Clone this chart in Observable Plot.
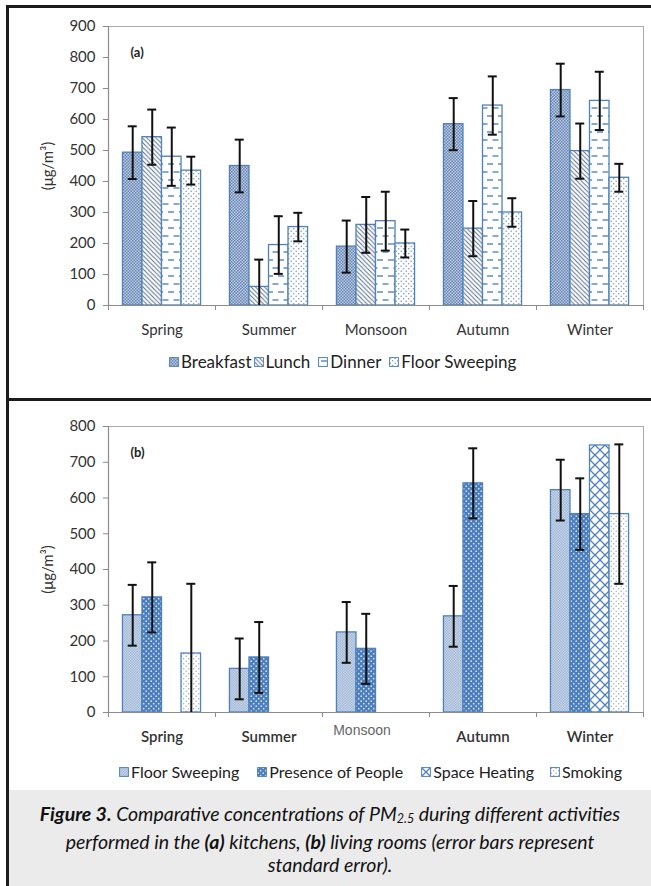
<!DOCTYPE html>
<html><head><meta charset="utf-8">
<script src="https://cdn.jsdelivr.net/npm/d3@7"></script>
<script src="https://cdn.jsdelivr.net/npm/@observablehq/plot@0.6"></script>
<style>
body{margin:0;background:#fff;}
#page{position:relative;width:651px;height:886px;overflow:hidden;font-family:Lato,"Open Sans",sans-serif;}
.ln{position:absolute;background:#1c1c1c;}
#chartA,#chartB{position:absolute;left:0;}
#chartA{top:0;} #chartB{top:400px;}
.legend{position:absolute;display:flex;align-items:center;color:#222;white-space:nowrap;line-height:20px;}
.legend span.it{display:flex;align-items:center;}
.legend svg{margin-right:2px;}
#cap{position:absolute;left:9px;top:790px;width:642px;height:96px;background:#ebebeb;}
#capText{position:absolute;left:0;width:642px;top:12px;text-align:center;font-style:italic;font-size:19.5px;line-height:23px;color:#111;}
#capText sub{font-size:12.5px;vertical-align:-2px;}
</style></head>
<body><div id="page">
<div id="chartA"></div>
<div id="chartB"></div>
<div class="legend" id="legA" style="left:169px;top:352px;font-size:17px;"></div>
<div class="legend" id="legB" style="left:119px;top:762px;font-size:16px;"></div>
<div id="cap"><div id="capText"><b>Figure 3.</b> Comparative concentrations of PM<sub>2.5</sub> during different activities<br>performed in the <b>(a)</b> kitchens, <b>(b)</b> living rooms (error bars represent<br>standard error).</div></div>
<div class="ln" style="left:6px;top:5px;width:645px;height:3px;"></div>
<div class="ln" style="left:6px;top:5px;width:3px;height:881px;"></div>
<div class="ln" style="left:6px;top:398px;width:645px;height:3px;"></div>
</div>
<script>
// ---- data ----
const seasons = ["Spring", "Summer", "Monsoon", "Autumn", "Winter"];
const kitchenSeries = ["Breakfast", "Lunch", "Dinner", "Floor Sweeping"];
const breakfast   = [493, 450, 190, 585, 695];
const breakfastSE = [85, 85, 84, 84, 85];
const lunch       = [543, 60, 260, 248, 498];
const lunchSE     = [89, 88, 90, 89, 89];
const dinner      = [480, 195, 272, 645, 660];
const dinnerSE    = [94, 93, 95, 94, 94];
const sweepK      = [435, 253, 200, 300, 412];
const sweepKSE    = [45, 46, 45, 46, 45];

const livingSeries = ["Floor Sweeping", "Presence of People", "Space Heating", "Smoking"];
const sweepL      = [272, 122, 224, 269, 622];
const sweepLSE    = [85, 85, 85, 85, 85];
const people      = [322, 154, 178, 641, 555];
const peopleSE    = [98, 99, 98, 98, 100];
const heating     = [null, null, null, null, 747];
const heatingSE   = [null, null, null, null, null];
const smoking     = [165, null, null, null, 555];
const smokingSE   = [195, null, null, null, 195];

const yTitle = "(μg/m³)";

// ---- patterns ----
const patternDefs = `
<pattern id="pBreak" width="3" height="3" patternUnits="userSpaceOnUse"><rect width="3" height="3" fill="#bccbe1"/><rect width="1.5" height="1.5" fill="#6686b6"/><rect x="1.5" y="1.5" width="1.5" height="1.5" fill="#6686b6"/></pattern>
<pattern id="pLunch" width="4.5" height="4.5" patternUnits="userSpaceOnUse"><rect width="4.5" height="4.5" fill="#fff"/><path d="M-1,-1L5.5,5.5M-1,3.5L1,5.5M3.5,-1L5.5,1" stroke="#5a6f8e" stroke-width="1"/></pattern>
<pattern id="pDinner" width="11" height="16" patternUnits="userSpaceOnUse"><rect width="11" height="16" fill="#fff"/><path d="M3,4H9M-2.5,12H3.5M8.5,12H14.5" stroke="#5f8cc4" stroke-width="1.5"/></pattern>
<pattern id="pSweepK" width="5" height="5" patternUnits="userSpaceOnUse"><rect width="5" height="5" fill="#fff"/><circle cx="1.2" cy="1.2" r="0.8" fill="#7d9ac2"/><circle cx="3.7" cy="3.7" r="0.8" fill="#7d9ac2"/></pattern>
<pattern id="pSweepL" width="2.6" height="2.6" patternUnits="userSpaceOnUse"><rect width="2.6" height="2.6" fill="#dde6f2"/><rect width="1.3" height="1.3" fill="#8aa6cd"/><rect x="1.3" y="1.3" width="1.3" height="1.3" fill="#8aa6cd"/></pattern>
<pattern id="pPeople" width="5" height="5" patternUnits="userSpaceOnUse"><rect width="5" height="5" fill="#4a7dbd"/><circle cx="1.2" cy="1.2" r="0.85" fill="#d6e2f2"/><circle cx="3.7" cy="3.7" r="0.85" fill="#d6e2f2"/></pattern>
<pattern id="pHeat" width="10" height="10" patternUnits="userSpaceOnUse"><rect width="10" height="10" fill="#fff"/><path d="M0,0L5,5L0,10M5,-5L10,0M5,15L10,10M10,0L5,5L10,10" stroke="#4f7fbd" stroke-width="1.3" fill="none"/></pattern>
<pattern id="pSmoke" width="5" height="5" patternUnits="userSpaceOnUse"><rect width="5" height="5" fill="#fff"/><circle cx="1.2" cy="1.2" r="0.7" fill="#9aa6b6"/><circle cx="3.7" cy="3.7" r="0.7" fill="#9aa6b6"/></pattern>`;

function makeChart({series, values, ses, patterns, ymax, height, mt, mb, tag, labelFor, withDefs}) {
  const W = 651, ml = 108, mr = 8;
  const bw = (W - ml - mr) / seasons.length;
  const groupW = bw * 0.73, barW = groupW / series.length, pad = (bw - groupW) / 2;
  const k = ymax / (height - mt - mb);
  const grey = "#8c8c8c";
  const marks = [
    Plot.ruleY([ymax], {stroke: "#a8a8a8"}),
    Plot.ruleX([seasons[seasons.length - 1]], {x: d => d, y1: 0, y2: ymax, dx: bw / 2, stroke: "#a8a8a8"})
  ];
  const errs = [];
  series.forEach((s, i) => {
    const rows = seasons.map((season, j) => ({season, v: values[i][j], e: ses[i][j]})).filter(d => d.v != null);
    const inL = pad + i * barW, inR = bw - inL - barW;
    const cx = -bw / 2 + inL + barW / 2;
    marks.push(Plot.barY(rows, {x: "season", y: "v", fill: `url(#${patterns[i]})`, stroke: "#4f81bd", strokeWidth: 1.3, insetLeft: inL, insetRight: inR}));
    errs.push({rows: rows.filter(d => d.e != null), cx});
  });
  marks.push(Plot.ruleY([0], {stroke: grey, strokeWidth: 1.2}));
  marks.push(Plot.ruleX([seasons[0]], {x: d => d, y1: 0, y2: ymax, dx: -bw / 2, stroke: grey, strokeWidth: 1.2}));
  marks.push(Plot.ruleX(seasons, {x: d => d, y1: 0, y2: -5 * k, dx: -bw / 2, stroke: grey}));
  marks.push(Plot.ruleX([seasons[seasons.length - 1]], {x: d => d, y1: 0, y2: -5 * k, dx: bw / 2, stroke: grey}));
  errs.forEach(({rows, cx}) => {
    marks.push(Plot.ruleX(rows, {x: "season", y1: d => Math.max(0, d.v - d.e), y2: d => d.v + d.e, dx: cx, stroke: "#111", strokeWidth: 2}));
    marks.push(Plot.tickY(rows, {x: "season", y: d => d.v + d.e, dx: cx, insetLeft: bw / 2 - 4.5, insetRight: bw / 2 - 4.5, stroke: "#111", strokeWidth: 2}));
    marks.push(Plot.tickY(rows.filter(d => d.v - d.e > 0), {x: "season", y: d => d.v - d.e, dx: cx, insetLeft: bw / 2 - 4.5, insetRight: bw / 2 - 4.5, stroke: "#111", strokeWidth: 2}));
  });
  marks.push(Plot.axisY({ticks: ymax / 100, tickSize: 5, tickPadding: 8, stroke: grey, fill: "#333", fontSize: 15, tickFormat: d => String(d), label: yTitle, labelAnchor: "center", labelOffset: 66, labelArrow: "none"}));
  seasons.forEach(s => marks.push(Plot.text([s], {x: d => d, y: 0, ...labelFor(s)})));
  marks.push(Plot.text([tag], {frameAnchor: "top-left", dx: 22, dy: 21, fontWeight: "bold", fontSize: 13, fill: "#222"}));
  const svg = Plot.plot({
    width: W, height, marginLeft: ml, marginRight: mr, marginTop: mt, marginBottom: mb,
    x: {domain: seasons, padding: 0, axis: null},
    y: {domain: [0, ymax], axis: null},
    style: {fontFamily: "Lato, 'Open Sans', sans-serif", fontSize: "14px", color: "#333", background: "transparent", overflow: "visible"},
    marks
  });
  if (withDefs) svg.insertAdjacentHTML("afterbegin", `<defs>${patternDefs}</defs>`);
  return svg;
}

const chartA = makeChart({
  series: kitchenSeries,
  values: [breakfast, lunch, dinner, sweepK],
  ses: [breakfastSE, lunchSE, dinnerSE, sweepKSE],
  patterns: ["pBreak", "pLunch", "pDinner", "pSweepK"],
  ymax: 900, height: 345, mt: 26, mb: 40, tag: "(a)", withDefs: true,
  labelFor: () => ({dy: 25, fontSize: 15, fill: "#333"})
});
document.getElementById("chartA").appendChild(chartA);

const chartB = makeChart({
  series: livingSeries,
  values: [sweepL, people, heating, smoking],
  ses: [sweepLSE, peopleSE, heatingSE, smokingSE],
  patterns: ["pSweepL", "pPeople", "pHeat", "pSmoke"],
  ymax: 800, height: 345, mt: 26, mb: 33, tag: "(b)", withDefs: false,
  labelFor: s => s === "Monsoon"
    ? {dy: 18, dx: -14, fontSize: 14, fill: "#666", fontFamily: "'Liberation Sans', Arial, sans-serif"}
    : {dy: 25, fontSize: 15, fill: "#333", fontWeight: "600"}
});
document.getElementById("chartB").appendChild(chartB);

function legend(el, names, pats, gaps) {
  const root = document.getElementById(el);
  names.forEach((n, i) => {
    const it = document.createElement("span");
    it.className = "it";
    it.style.marginRight = gaps[i] + "px";
    it.innerHTML = `<svg width="10" height="10"><rect x="0.6" y="0.6" width="8.8" height="8.8" fill="url(#${pats[i]})" stroke="#4f81bd" stroke-width="1"/></svg>${n}`;
    root.appendChild(it);
  });
}
legend("legA", kitchenSeries, ["pBreak", "pLunch", "pDinner", "pSweepK"], [2, 8, 8, 0]);
legend("legB", livingSeries, ["pSweepL", "pPeople", "pHeat", "pSmoke"], [18, 18, 16, 0]);
</script>
</body></html>
